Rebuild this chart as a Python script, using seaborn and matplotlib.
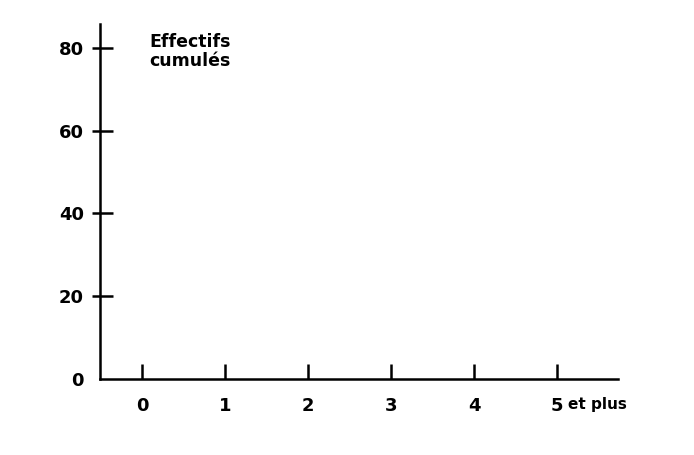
import matplotlib
matplotlib.use("Agg")
import matplotlib.pyplot as plt
import seaborn as sns
import pandas as pd

# Data (the reference shows an empty frame: axes only)
categories = ["0", "1", "2", "3", "4", "5"]
y_ticks = [0, 20, 40, 60, 80]
y_label = "Effectifs\ncumulés"
x_suffix = "et plus"

sns.set_style("ticks")
plt.rcParams['font.family'] = ['DejaVu Sans']
plt.rcParams['text.color'] = 'black'

fig = plt.figure(figsize=(6.94, 4.55), dpi=100)
ax = fig.add_axes([100/694, 76/455, 518/694, 355/455])

df = pd.DataFrame({"cat": list(range(len(categories))), "val": [float("nan")] * len(categories)})
sns.lineplot(data=df, x="cat", y="val", ax=ax)

ax.set_xlim(-0.506, 5.735)
ax.set_ylim(0, 85.8)
ax.set_xticks(range(len(categories)))
ax.set_xticklabels(categories)
ax.set_yticks(y_ticks)
ax.set_yticks(y_ticks, minor=True)
ax.yaxis.remove_overlapping_locs = False
ax.set_xlabel("")
ax.set_ylabel("")

sns.despine(ax=ax)
for s in ["left", "bottom"]:
    ax.spines[s].set_linewidth(1.8)
    ax.spines[s].set_color("black")

ax.tick_params(axis="x", direction="in", length=11, width=1.8, pad=13,
               labelsize=13, colors="black")
ax.tick_params(axis="y", which="major", direction="out", length=5.5, width=1.8, pad=6,
               labelsize=13, colors="black")
ax.tick_params(axis="y", which="minor", direction="in", length=9, width=1.8,
               labelleft=False, colors="black")
for lab in ax.get_xticklabels() + ax.get_yticklabels():
    lab.set_fontweight("bold")

# no tick mark at the origin on the vertical axis
ax.yaxis.get_major_ticks()[0].tick1line.set_visible(False)
ax.yaxis.get_minor_ticks()[0].tick1line.set_visible(False)

ax.text(5.135, -0.073, x_suffix, transform=ax.get_xaxis_transform(),
        ha="left", va="center", fontsize=11, fontweight="bold", color="black")
ax.text(0.096, 0.975, y_label, transform=ax.transAxes, ha="left", va="top",
        fontsize=12.5, fontweight="bold", linespacing=1.05, color="black")

fig.savefig("out.png", dpi=100)
